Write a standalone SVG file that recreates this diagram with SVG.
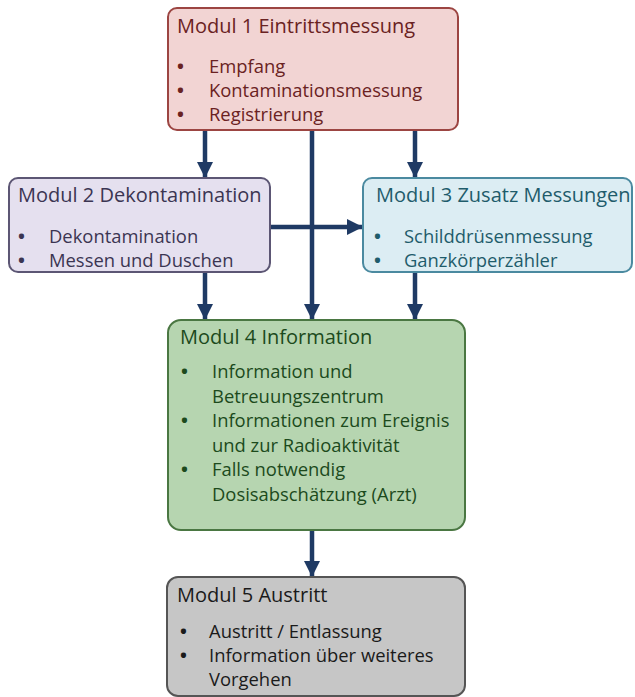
<svg xmlns="http://www.w3.org/2000/svg" width="635" height="697" viewBox="0 0 635 697">
  <style>
    text { font-family: "Open Sans", "Noto Sans", "Liberation Sans", sans-serif; }
    .title { font-size: 20px; }
    .item { font-size: 18.4px; }
    .dot { font-size: 18.4px; font-weight: bold; }
    .box { stroke-width: 2; }
    .m1 rect { fill: #f2d4d3; stroke: #9c4542; }
    .m1 text { fill: #6a2222; }
    .m2 rect { fill: #e5e0ef; stroke: #5c5674; }
    .m2 text { fill: #3b3552; }
    .m3 rect { fill: #dcedf3; stroke: #4b8aa0; }
    .m3 text { fill: #1f5c6b; }
    .m4 rect { fill: #b6d5b0; stroke: #4a7742; }
    .m4 text { fill: #1c4a1c; }
    .m5 rect { fill: #c6c6c6; stroke: #555555; }
    .m5 text { fill: #1a1a1a; }
    .conn { stroke: #1f3a64; stroke-width: 4.5; fill: none; }
  </style>
  <defs>
    <marker id="arrow" viewBox="0 0 10 10" refX="10" refY="5" markerWidth="3.6" markerHeight="3.9" orient="auto" markerUnits="strokeWidth">
      <path d="M0,0 L10,5 L0,10 Z" fill="#1f3a64"/>
    </marker>
  </defs>

  <!-- connectors -->
  <g id="connectors">
    <line class="conn" x1="205" y1="130" x2="205" y2="178" marker-end="url(#arrow)"/>
    <line class="conn" x1="415" y1="130" x2="415" y2="178" marker-end="url(#arrow)"/>
    <line class="conn" x1="312" y1="130" x2="312" y2="320" marker-end="url(#arrow)"/>
    <line class="conn" x1="270" y1="227" x2="363" y2="227" marker-end="url(#arrow)"/>
    <line class="conn" x1="205" y1="272" x2="205" y2="320" marker-end="url(#arrow)"/>
    <line class="conn" x1="415" y1="272" x2="415" y2="320" marker-end="url(#arrow)"/>
    <line class="conn" x1="312" y1="530" x2="312" y2="577" marker-end="url(#arrow)"/>
  </g>

  <!-- Modul 1 -->
  <g id="modul1" class="m1">
    <rect class="box" x="168" y="8" width="290" height="122" rx="9"/>
    <text class="title" x="177" y="33">Modul 1 Eintrittsmessung</text>
    <text class="dot" x="177" y="73">•</text>
    <text class="item" x="209" y="73">Empfang</text>
    <text class="dot" x="177" y="97">•</text>
    <text class="item" x="209" y="97">Kontaminationsmessung</text>
    <text class="dot" x="177" y="121">•</text>
    <text class="item" x="209" y="121">Registrierung</text>
  </g>

  <!-- Modul 2 -->
  <g id="modul2" class="m2">
    <rect class="box" x="9" y="178" width="261" height="94" rx="9"/>
    <text class="title" x="18" y="202">Modul 2 Dekontamination</text>
    <text class="dot" x="18" y="243">•</text>
    <text class="item" x="49" y="243">Dekontamination</text>
    <text class="dot" x="18" y="267">•</text>
    <text class="item" x="49" y="267">Messen und Duschen</text>
  </g>

  <!-- Modul 3 -->
  <g id="modul3" class="m3">
    <rect class="box" x="363" y="178" width="269" height="94" rx="9"/>
    <text class="title" x="376" y="202">Modul 3 Zusatz Messungen</text>
    <text class="dot" x="374" y="243">•</text>
    <text class="item" x="404" y="243">Schilddrüsenmessung</text>
    <text class="dot" x="374" y="267">•</text>
    <text class="item" x="404" y="267">Ganzkörperzähler</text>
  </g>

  <!-- Modul 4 -->
  <g id="modul4" class="m4">
    <rect class="box" x="168" y="320" width="297" height="210" rx="13"/>
    <text class="title" x="180" y="344">Modul 4 Information</text>
    <text class="dot" x="181" y="378">•</text>
    <text class="item" x="212" y="378">Information und</text>
    <text class="item" x="212" y="403">Betreuungszentrum</text>
    <text class="dot" x="181" y="427">•</text>
    <text class="item" x="212" y="427">Informationen zum Ereignis</text>
    <text class="item" x="212" y="452">und zur Radioaktivität</text>
    <text class="dot" x="181" y="476">•</text>
    <text class="item" x="212" y="476">Falls notwendig</text>
    <text class="item" x="212" y="501">Dosisabschätzung (Arzt)</text>
  </g>

  <!-- Modul 5 -->
  <g id="modul5" class="m5">
    <rect class="box" x="167" y="577" width="298" height="119" rx="11"/>
    <text class="title" x="177" y="602">Modul 5 Austritt</text>
    <text class="dot" x="180" y="638">•</text>
    <text class="item" x="209" y="638">Austritt / Entlassung</text>
    <text class="dot" x="180" y="662">•</text>
    <text class="item" x="209" y="662">Information über weiteres</text>
    <text class="item" x="209" y="686">Vorgehen</text>
  </g>
</svg>
